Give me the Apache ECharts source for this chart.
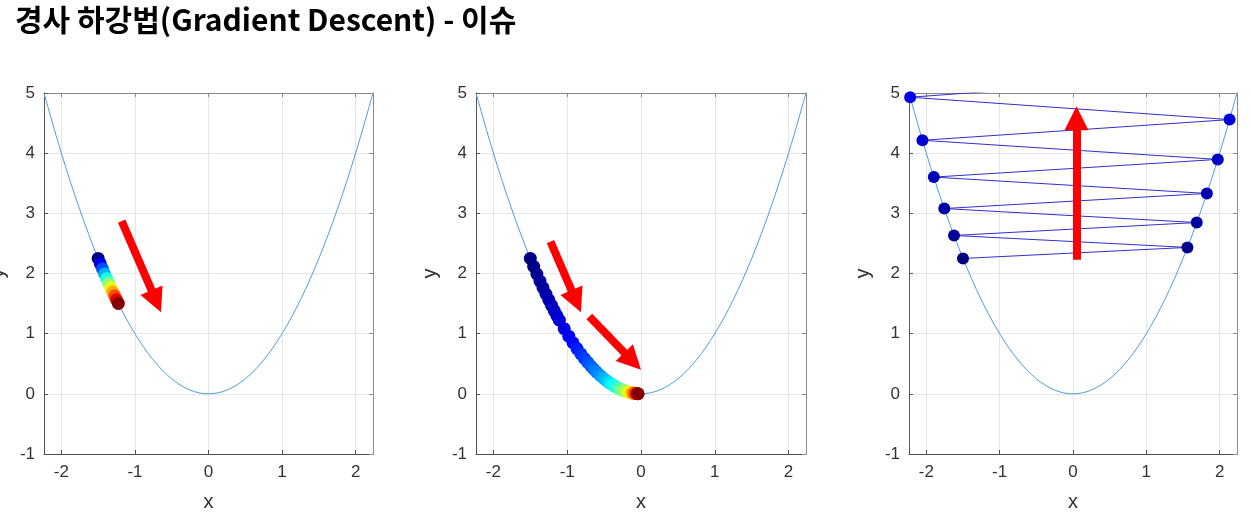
<!DOCTYPE html>
<html>
<head>
<meta charset="utf-8">
<title>경사 하강법 - 이슈</title>
<script src="https://cdn.jsdelivr.net/npm/echarts@6.0.0/dist/echarts.min.js"></script>
<style>
	html, body { margin: 0; padding: 0; background: #fff; }
	#chart { width: 1253px; height: 519px; }
</style>
</head>
<body>
<div id="chart"></div>
<script>
	// y = x^2 곡선 (그림에서 읽은 점)
	var curve_x = [-2.2361, -2, -1.75, -1.5, -1.25, -1, -0.75, -0.5, -0.25, 0, 0.25, 0.5, 0.75, 1, 1.25, 1.5, 1.75, 2, 2.2361];
	var curve_y = [5, 4, 3.0625, 2.25, 1.5625, 1, 0.5625, 0.25, 0.0625, 0, 0.0625, 0.25, 0.5625, 1, 1.5625, 2.25, 3.0625, 4, 5];

	// 1) 학습률이 너무 작을 때 - 조금만 내려감
	var slow_step = [0, 1, 2, 3, 4, 5, 6, 7, 8, 9, 10];
	var slow_x = [-1.5, -1.47, -1.4406, -1.4118, -1.3836, -1.3559, -1.3288, -1.3022, -1.2761, -1.2506, -1.2256];
	var slow_y = [2.25, 2.1609, 2.0753, 1.9932, 1.9143, 1.8385, 1.7657, 1.6957, 1.6284, 1.564, 1.5021];

	// 2) 충분히 반복하면 최소점까지 수렴
	var conv_step = [0, 1, 2, 3, 4, 5, 6, 7, 8, 9, 10, 12, 14, 16, 18, 20, 22, 24, 26, 28, 30, 33, 36, 39, 42, 45, 48, 52, 56, 60, 65, 70, 75, 80, 86, 92, 99, 106, 113, 120];
	var conv_x = [-1.5, -1.455, -1.4114, -1.369, -1.3279, -1.2881, -1.2495, -1.212, -1.1756, -1.1403, -1.1061, -1.0408, -0.9793, -0.9214, -0.8669, -0.8157, -0.7675, -0.7221, -0.6794, -0.6393, -0.6015, -0.549, -0.501, -0.4573, -0.4174, -0.3809, -0.3477, -0.3078, -0.2725, -0.2412, -0.2071, -0.1779, -0.1527, -0.1312, -0.1093, -0.091, -0.0735, -0.0594, -0.048, -0.0388];
	var conv_y = [2.25, 2.117, 1.992, 1.874, 1.7634, 1.6592, 1.5612, 1.4689, 1.3821, 1.3003, 1.2235, 1.0832, 0.959, 0.849, 0.7516, 0.6654, 0.589, 0.5215, 0.4616, 0.4087, 0.3618, 0.3014, 0.251, 0.2091, 0.1742, 0.1451, 0.1209, 0.0947, 0.0742, 0.0582, 0.0429, 0.0316, 0.0233, 0.0172, 0.0119, 0.0083, 0.0054, 0.0035, 0.0023, 0.0015];

	// 3) 학습률이 너무 클 때 - 발산
	var big_step = [0, 1, 2, 3, 4, 5, 6, 7, 8, 9, 10, 11];
	var big_x = [-1.5, 1.56, -1.6224, 1.6873, -1.7548, 1.825, -1.898, 1.9739, -2.0528, 2.1349, -2.2203, 2.3091];
	var big_y = [2.25, 2.4336, 2.6322, 2.8469, 3.0793, 3.3306, 3.6023, 3.8962, 4.214, 4.5578, 4.9297, 5.3319];

	var X_LIM = 2.2361;
	var JET = ['#000080', '#0000ff', '#0080ff', '#00ffff', '#80ff80', '#ffff00', '#ff8000', '#ff0000', '#800000'];
	var GRIDS = [
		{left: 44, top: 93, width: 329, height: 361},
		{left: 476, top: 93, width: 330, height: 361},
		{left: 909, top: 93, width: 328, height: 361}
	];
	var FONT = 'Liberation Sans, Arial, sans-serif';

	function zip(xs, ys, ns){
		var out = [];
		for (var i = 0; i < xs.length; i++) {
			out.push(ns ? [xs[i], ys[i], ns[i]] : [xs[i], ys[i]]);
		}
		return out;
	}

	function arrow(from, to){
		return [{coord: from}, {coord: to}];
	}

	function arrow_line(list){
		return {
			silent: true,
			animation: false,
			symbol: ['none', 'triangle'],
			symbolSize: [24, 24],
			label: {show: false},
			lineStyle: {color: '#ff0000', width: 8, type: 'solid', opacity: 1},
			itemStyle: {color: '#ff0000'},
			emphasis: {disabled: true},
			data: list
		};
	}

	function cal_option(){
		var xAxis = [], yAxis = [], series = [], visualMap = [];

		GRIDS.forEach(function(g, i){
			xAxis.push({
				type: 'value', gridIndex: i, min: -X_LIM, max: X_LIM, position: 'bottom',
				name: 'x', nameLocation: 'middle', nameGap: 38,
				nameTextStyle: {fontFamily: FONT, fontSize: 20, color: '#333'},
				axisLine: {onZero: false, lineStyle: {color: '#555'}},
				axisTick: {inside: true, length: 4, lineStyle: {color: '#555'}},
				axisLabel: {
					margin: 10, fontFamily: FONT, fontSize: 17, color: '#333',
					showMinLabel: false, showMaxLabel: false,
					formatter: function(v){ return Math.abs(v - Math.round(v)) < 1e-6 ? String(v) : ''; }
				},
				splitLine: {show: true, lineStyle: {color: '#e6e6e6'}}
			});
			xAxis.push({
				type: 'value', gridIndex: i, min: -X_LIM, max: X_LIM, position: 'top',
				axisLine: {onZero: false, lineStyle: {color: '#8a8a8a'}},
				axisTick: {inside: true, length: 4, lineStyle: {color: '#8a8a8a'}},
				axisLabel: {show: false},
				splitLine: {show: false}
			});
			yAxis.push({
				type: 'value', gridIndex: i, min: -1, max: 5, position: 'left',
				name: 'y', nameLocation: 'middle', nameGap: 36,
				nameTextStyle: {fontFamily: FONT, fontSize: 20, color: '#333'},
				axisLine: {onZero: false, lineStyle: {color: '#555'}},
				axisTick: {inside: true, length: 4, lineStyle: {color: '#555'}},
				axisLabel: {margin: 9, fontFamily: FONT, fontSize: 17, color: '#333'},
				splitLine: {show: true, lineStyle: {color: '#e6e6e6'}}
			});
			yAxis.push({
				type: 'value', gridIndex: i, min: -1, max: 5, position: 'right',
				axisLine: {onZero: false, lineStyle: {color: '#8a8a8a'}},
				axisTick: {inside: true, length: 4, lineStyle: {color: '#8a8a8a'}},
				axisLabel: {show: false},
				splitLine: {show: false}
			});
			series.push({
				type: 'line', xAxisIndex: i * 2, yAxisIndex: i * 2,
				data: zip(curve_x, curve_y), smooth: 0.35, symbol: 'none', silent: true,
				lineStyle: {color: '#4a9fd8', width: 1}, z: 1
			});
		});

		// 1번 그래프
		series.push({
			type: 'scatter', xAxisIndex: 0, yAxisIndex: 0, symbolSize: 13, z: 3,
			itemStyle: {opacity: 1},
			data: zip(slow_x, slow_y, slow_step),
			markLine: arrow_line([arrow([-1.18, 2.87], [-0.71, 1.54])])
		});
		visualMap.push({type: 'continuous', show: false, seriesIndex: series.length - 1, dimension: 2, min: 0, max: 10, inRange: {color: JET}});

		// 2번 그래프
		series.push({
			type: 'scatter', xAxisIndex: 2, yAxisIndex: 2, symbolSize: 13, z: 3,
			itemStyle: {opacity: 1},
			data: zip(conv_x, conv_y, conv_step),
			markLine: arrow_line([
				arrow([-1.227, 2.53], [-0.878, 1.54]),
				arrow([-0.70, 1.285], [-0.113, 0.543])
			])
		});
		visualMap.push({type: 'continuous', show: false, seriesIndex: series.length - 1, dimension: 2, min: 0, max: 120, inRange: {color: JET}});

		// 3번 그래프
		series.push({
			type: 'line', xAxisIndex: 4, yAxisIndex: 4, symbol: 'none', silent: true, z: 2,
			data: zip(big_x, big_y), lineStyle: {color: '#3030c8', width: 1}
		});
		series.push({
			type: 'scatter', xAxisIndex: 4, yAxisIndex: 4, symbolSize: 12, z: 3,
			itemStyle: {opacity: 1},
			data: zip(big_x, big_y, big_step),
			markLine: arrow_line([arrow([0.048, 2.23], [0.048, 4.58])])
		});
		visualMap.push({type: 'continuous', show: false, seriesIndex: series.length - 1, dimension: 2, min: 0, max: 100, inRange: {color: JET}});

		return {
			backgroundColor: '#ffffff',
			animation: false,
			title: {
				text: '경사 하강법(Gradient Descent) - 이슈',
				left: 10, top: 0,
				textStyle: {fontFamily: 'Noto Sans CJK KR', fontWeight: 'bold', fontSize: 30, color: '#000'}
			},
			grid: GRIDS.map(function(g){
				return {
					left: g.left, top: g.top, width: g.width, height: g.height,
					containLabel: false, outerBoundsMode: 'none',
					show: true, borderColor: 'transparent', backgroundColor: 'transparent'
				};
			}),
			xAxis: xAxis,
			yAxis: yAxis,
			visualMap: visualMap,
			series: series
		};
	}

	var myChart = echarts.init(document.getElementById('chart'));
	myChart.setOption(cal_option());
</script>
</body>
</html>
